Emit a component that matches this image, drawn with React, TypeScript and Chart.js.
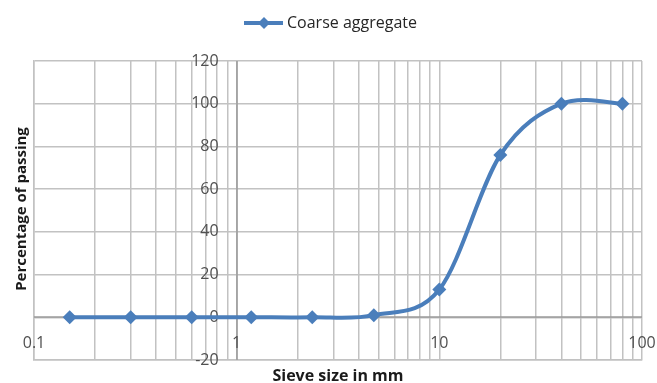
import React, { useEffect, useRef } from "react";
import { Chart, registerables } from "chart.js";

Chart.register(...registerables);

// Sieve analysis of the coarse aggregate
const sieveSizes = [0.15, 0.3, 0.6, 1.18, 2.36, 4.75, 10, 20, 40, 80];
const passing = [0, 0, 0, 0, 0, 1, 13, 76, 100, 100];
const seriesName = "Coarse aggregate";

// Axis ranges and labels
const decadeStarts = [0.1, 1, 10];
const xMin = 0.1;
const xMax = 100;
const xLabelValues = [0.1, 1, 10, 100];
const xLabelText = ["0.1", "1", "10", "100"];
const yMin = -20;
const yMax = 120;
const yStep = 20;
const xTitle = "Sieve size in mm";
const yTitle = "Percentage of passing";

const W = 657;
const H = 383;
const BLUE = "#4a7ebb";
const GRID = "#c2c2c2";
const LABEL = "#505050";
const FONT = "'Open Sans', sans-serif";

function drawDiamond(ctx: CanvasRenderingContext2D, cx: number, cy: number, r: number) {
  ctx.beginPath();
  ctx.moveTo(cx, cy - r);
  ctx.lineTo(cx + r, cy);
  ctx.lineTo(cx, cy + r);
  ctx.lineTo(cx - r, cy);
  ctx.closePath();
  ctx.fill();
}

// Smoothed series line (uniform Catmull-Rom through the scaled points)
function drawSmoothLine(chart: any) {
  const { ctx } = chart;
  const pts = chart.getDatasetMeta(0).data.map((p: any) => ({ x: p.x, y: p.y }));
  if (pts.length < 2) return;
  ctx.save();
  ctx.strokeStyle = BLUE;
  ctx.lineWidth = 4;
  ctx.lineJoin = "round";
  ctx.lineCap = "round";
  ctx.beginPath();
  ctx.moveTo(pts[0].x, pts[0].y);
  for (let i = 0; i < pts.length - 1; i++) {
    const p0 = pts[Math.max(0, i - 1)];
    const p1 = pts[i];
    const p2 = pts[i + 1];
    const p3 = pts[Math.min(pts.length - 1, i + 2)];
    const c1x = p1.x + (p2.x - p0.x) / 6;
    const c1y = p1.y + (p2.y - p0.y) / 6;
    const c2x = p2.x - (p3.x - p1.x) / 6;
    const c2y = p2.y - (p3.y - p1.y) / 6;
    ctx.bezierCurveTo(c1x, c1y, c2x, c2y, p2.x, p2.y);
  }
  ctx.stroke();
  ctx.restore();
}

const overlay = {
  id: "overlay",
  beforeDatasetsDraw(chart: any) {
    const { ctx, scales } = chart;
    const x = scales.x;
    const y = scales.y;
    const x1 = x.getPixelForValue(1);
    const y0 = y.getPixelForValue(0);
    ctx.save();
    // axes crossing at x = 1 and y = 0
    ctx.strokeStyle = "#9a9a9a";
    ctx.lineWidth = 1.5;
    ctx.beginPath();
    ctx.moveTo(Math.round(x1), chart.chartArea.top);
    ctx.lineTo(Math.round(x1), chart.chartArea.bottom);
    ctx.moveTo(chart.chartArea.left, Math.round(y0));
    ctx.lineTo(chart.chartArea.right, Math.round(y0));
    ctx.stroke();

    ctx.fillStyle = LABEL;
    ctx.font = `16px ${FONT}`;
    ctx.textAlign = "right";
    ctx.textBaseline = "middle";
    for (let v = yMin; v <= yMax; v += yStep) {
      ctx.fillText(String(v), x1 - 18, y.getPixelForValue(v));
    }
    ctx.textAlign = "center";
    xLabelValues.forEach((v, i) => {
      ctx.fillText(xLabelText[i], x.getPixelForValue(v), y0 + 26);
    });
    ctx.restore();

    drawSmoothLine(chart);
  },
  afterDraw(chart: any) {
    const { ctx } = chart;
    ctx.save();
    // axis titles
    ctx.fillStyle = "#1a1a1a";
    ctx.textAlign = "center";
    ctx.textBaseline = "middle";
    ctx.font = `bold 16px ${FONT}`;
    ctx.fillText(xTitle, 338, 376);
    ctx.font = `bold 15px ${FONT}`;
    ctx.translate(22, 209);
    ctx.rotate(-Math.PI / 2);
    ctx.fillText(yTitle, 0, 0);
    ctx.restore();

    // legend
    ctx.save();
    ctx.strokeStyle = BLUE;
    ctx.fillStyle = BLUE;
    ctx.lineWidth = 4;
    ctx.beginPath();
    ctx.moveTo(244, 23);
    ctx.lineTo(283, 23);
    ctx.stroke();
    drawDiamond(ctx, 264, 23, 6);
    ctx.fillStyle = "#262626";
    ctx.font = `16px ${FONT}`;
    ctx.textAlign = "left";
    ctx.textBaseline = "middle";
    ctx.fillText(seriesName, 287, 23);
    ctx.restore();
  },
};

export default function App() {
  const ref = useRef<HTMLCanvasElement | null>(null);

  useEffect(() => {
    if (!ref.current) return;
    const chart = new Chart(ref.current, {
      type: "line",
      data: {
        datasets: [
          {
            label: seriesName,
            data: sieveSizes.map((s, i) => ({ x: s, y: passing[i] })),
            borderColor: BLUE,
            backgroundColor: BLUE,
            borderWidth: 4,
            showLine: false,
            pointStyle: "rectRot",
            pointRadius: 7,
            pointBorderWidth: 0,
            fill: false,
          },
        ],
      },
      options: {
        responsive: false,
        animation: false,
        layout: { padding: { left: 34, right: 15, top: 61, bottom: 23 } },
        plugins: { legend: { display: false }, tooltip: { enabled: false } },
        scales: {
          x: {
            type: "logarithmic",
            min: xMin,
            max: xMax,
            afterBuildTicks: (scale: any) => {
              const ticks: { value: number }[] = [];
              decadeStarts.forEach((d) => {
                for (let k = 1; k <= 9; k++) ticks.push({ value: +(d * k).toPrecision(3) });
              });
              ticks.push({ value: xMax });
              scale.ticks = ticks;
            },
            ticks: { display: false },
            grid: { color: GRID, lineWidth: 1.5, drawTicks: false },
            border: { display: true, color: GRID, width: 1.5 },
          },
          y: {
            type: "linear",
            min: yMin,
            max: yMax,
            ticks: { display: false, stepSize: yStep },
            grid: { color: GRID, lineWidth: 1.5, drawTicks: false },
            border: { display: true, color: GRID, width: 1.5 },
          },
        },
      },
      plugins: [overlay],
    } as any);
    return () => chart.destroy();
  }, []);

  return (
    <div style={{ position: "fixed", left: 0, top: 0, width: W, height: H, background: "#fff" }}>
      <canvas ref={ref} width={W} height={H} style={{ display: "block" }} />
    </div>
  );
}
